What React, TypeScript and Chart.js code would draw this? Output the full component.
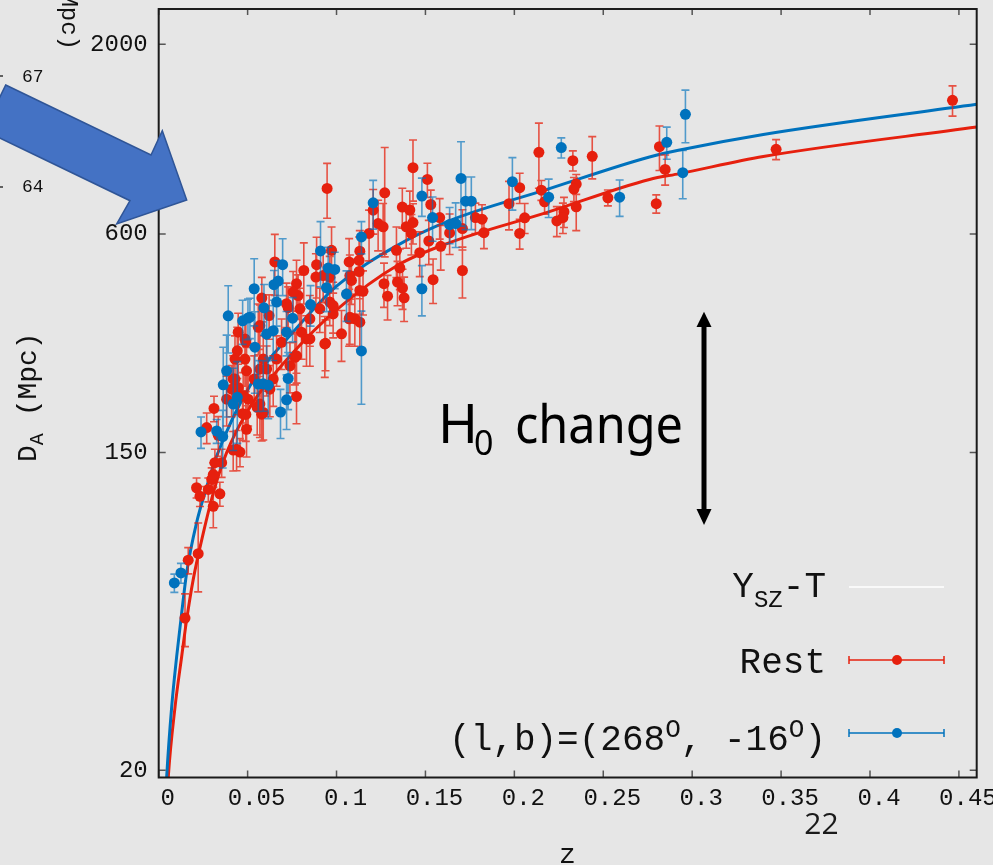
import { useEffect, useRef } from "react";
import { Chart, registerables } from "chart.js";

Chart.register(...registerables);

// Axis ticks
const xTicks = [0, 0.05, 0.1, 0.15, 0.2, 0.25, 0.3, 0.35, 0.4, 0.45];
const xTickLabels = ["0", "0.05", "0.1", "0.15", "0.2", "0.25", "0.3", "0.35", "0.4", "0.45"];
const yTicks = [20, 150, 600, 2000];
const yTickLabels = ["20", "150", "600", "2000"];

// "Rest" clusters: redshift, angular diameter distance (Mpc), 1-sigma error (Mpc)
const redZ = [
  0.0148, 0.0166, 0.0222, 0.0213, 0.0232, 0.0279, 0.0307, 0.0344, 0.0298, 0.0307,
  0.0316, 0.0354, 0.0419, 0.0457, 0.0311, 0.027, 0.0335, 0.0472, 0.049, 0.0429,
  0.0485, 0.0494, 0.0419, 0.0447, 0.0503, 0.0554, 0.0579, 0.0447, 0.0485, 0.056,
  0.0588, 0.0607, 0.0644, 0.0625, 0.0663, 0.0691, 0.0738, 0.0766, 0.0775, 0.0803,
  0.0831, 0.085, 0.0794, 0.0906, 0.0938, 0.1028, 0.1075, 0.0981, 0.0962, 0.0719,
  0.0569, 0.058, 0.0653, 0.0621, 0.0728, 0.0775, 0.0784, 0.0816, 0.0884, 0.0888,
  0.0925, 0.0972, 0.0981, 0.0934, 0.1071, 0.1127, 0.1131, 0.1084, 0.1071, 0.1103,
  0.1131, 0.1149, 0.1183, 0.1234, 0.1262, 0.1337, 0.1267, 0.1287, 0.1343, 0.085,
  0.0775, 0.0569, 0.0588, 0.0494, 0.0438, 0.0947, 0.1271, 0.143, 0.1511, 0.153,
  0.158, 0.137, 0.1412, 0.1206, 0.1392, 0.143, 0.1421, 0.1356, 0.1468, 0.1519,
  0.1586, 0.1371, 0.138, 0.1543, 0.1636, 0.1708, 0.1708, 0.1781, 0.1818, 0.1829,
  0.197, 0.203, 0.2058, 0.203, 0.2138, 0.2152, 0.217, 0.2239, 0.2279, 0.2273,
  0.2329, 0.2348, 0.2335, 0.2348, 0.2438, 0.2526, 0.2798, 0.2816, 0.2848, 0.3472,
  0.4464, 0.0962, 0.1075, 0.0756, 0.1127, 0.1131, 0.0382, 0.0429, 0.041, 0.0475,
  0.049, 0.0569, 0.0442, 0.0537,
];
const redD = [
  52.5, 75.8, 79, 120, 113.7, 118.7, 106.7, 115.5, 126.5, 130.5,
  140.7, 140.7, 152.4, 150.5, 198.4, 175.8, 167.4, 192, 191, 271.5,
  271.5, 252, 239.1, 226.7, 210.5, 199.7, 191.4, 322, 308.4, 332,
  271.5, 254.8, 239.1, 224.3, 271.5, 302, 260, 274.5, 214, 322,
  308.4, 350.3, 373.3, 373.3, 300, 318.5, 354, 361.5, 389.6, 385.5,
  335.6, 399.6, 502.5, 357.7, 376, 437.8, 406, 476, 456.6, 494,
  461, 541, 381, 298.7, 502.5, 507.5, 419.4, 447, 350.3, 350.3,
  343, 417, 602, 641, 628, 541, 437.8, 404.6, 442.5, 308.4,
  277, 204, 193.4, 173.9, 153.1, 801.2, 779, 914, 848, 723.5,
  666, 712, 698.7, 697.7, 628, 645, 602, 483.7, 533, 574,
  555, 426, 400.3, 449, 604, 621, 476, 666, 659, 605,
  727, 805, 665, 602, 1007, 792.5, 736, 652, 691, 666,
  955.5, 823.5, 797.6, 713, 982, 755, 727, 1044, 904, 1026.6,
  1401, 456.7, 461, 415, 473, 538, 210.5, 239.1, 224.3, 215,
  302, 254.8, 286, 239,
];
const redErr = [
  8.7, 6.3, 17, 7.6, 7.2, 9, 13.6, 8.8, 9.6, 10,
  12.5, 12.5, 19, 13.4, 16, 17, 21, 30, 30, 43,
  43, 40, 38, 36, 33, 32, 30, 41, 43, 53,
  43, 40, 38, 36, 43, 48, 41, 44, 34, 51,
  49, 56, 52, 52, 48, 51, 56, 51, 54, 54,
  47, 56, 96, 50, 53, 70, 57, 91, 73, 94,
  73, 86, 61, 57, 80, 81, 59, 63, 56, 56,
  55, 58, 96, 102, 100, 86, 61, 57, 62, 49,
  44, 39, 31, 28, 19.5, 138, 260, 175, 92, 69,
  85, 90, 89, 98, 80, 82, 77, 62, 75, 80,
  78, 54, 56, 63, 77, 79, 76, 64, 63, 58,
  111, 77, 63, 57, 205, 50, 56, 62, 66, 64,
  61, 52, 61, 100, 131, 38, 42, 146, 86, 65,
  134, 64, 64, 58, 66, 75, 33, 38, 36, 34,
  48, 40, 46, 38,
];

// Clusters in the (l,b) = (268°, -16°) direction
const blueZ = [
  0.0088, 0.0125, 0.0238, 0.0326, 0.036, 0.0363, 0.0382, 0.0391, 0.0419, 0.0442,
  0.0472, 0.0502, 0.0513, 0.0537, 0.0541, 0.056, 0.0588, 0.0616, 0.0592, 0.0607,
  0.0644, 0.0648, 0.0672, 0.0697, 0.0663, 0.0685, 0.0719, 0.0728, 0.0719, 0.0753,
  0.0854, 0.091, 0.0944, 0.0953, 0.099, 0.1056, 0.114, 0.114, 0.1206, 0.148,
  0.154, 0.148, 0.17, 0.1726, 0.1758, 0.1636, 0.167, 0.1989, 0.2193, 0.2264,
  0.2592, 0.2857, 0.2962, 0.2947,
];
const blueD = [
  65.6, 69.9, 171, 172, 166, 230.6, 252, 357, 204, 213,
  346, 352, 354, 424, 292.6, 231.7, 232, 230, 375.7, 318,
  325, 435, 445, 494, 389.6, 194, 209.6, 240, 322, 351.7,
  383.6, 539, 426.7, 483.4, 479.4, 409.8, 589, 285.8, 731, 763,
  666, 424, 853.8, 739, 739, 637, 641, 836, 758, 1038,
  758, 1073, 1282, 885,
];
const blueErr = [
  3.8, 4.4, 17, 13, 30, 62, 64, 75, 52, 54,
  48, 45, 45, 89, 74, 37, 37, 44, 60, 50,
  56, 41, 62, 88, 55, 30, 36, 43, 45, 49,
  49, 110, 60, 68, 55, 65, 60, 82, 112, 92,
  93, 67, 223, 122, 122, 73, 90, 138, 92, 66,
  87, 109, 212, 135,
];

// Model D_A(z) curves for the two H0 values
const blueFitZ = [0.0038, 0.0045, 0.0073, 0.0101, 0.0129, 0.0157, 0.0213, 0.026, 0.0326, 0.0513, 0.0756, 0.1, 0.1327, 0.1636, 0.218, 0.276, 0.293, 0.34, 0.46];
const blueFitD = [16.2, 19.2, 29.9, 41.1, 54.1, 69.9, 96.1, 116.2, 146.8, 229, 322, 431, 553, 653, 795, 978, 1022, 1128, 1366];
const redFitZ = [0.0046, 0.0054, 0.0092, 0.0129, 0.0157, 0.0194, 0.0251, 0.0307, 0.0382, 0.0513, 0.0756, 0.1, 0.1346, 0.1636, 0.218, 0.276, 0.293, 0.34, 0.46];
const redFitD = [16.2, 19.2, 29.9, 41.1, 51.9, 67.0, 90.1, 116.2, 149.9, 200, 283, 371, 493, 568, 687, 848, 880, 981, 1182];

const RED = "#e6200e";
const BLUE = "#0072bd";
const MONO = "'Liberation Mono', 'DejaVu Sans Mono', monospace";

const toPoints = (xs: number[], ys: number[]) => xs.map((x, i) => ({ x, y: ys[i] }));

// Vertical error bars with caps, drawn just before each point dataset
const errorBarPlugin = {
  id: "errorBars",
  beforeDatasetDraw(chart: any, args: any) {
    const ds: any = chart.data.datasets[args.index];
    if (!ds.errs) return;
    const { ctx, chartArea: a } = chart;
    const xs = chart.scales.x;
    const ys = chart.scales.y;
    ctx.save();
    ctx.beginPath();
    ctx.rect(a.left, a.top, a.right - a.left, a.bottom - a.top);
    ctx.clip();
    ctx.strokeStyle = ds.errColor;
    ctx.lineWidth = 1.6;
    ctx.beginPath();
    ds.data.forEach((p: any, i: number) => {
      const e = ds.errs[i];
      const x = xs.getPixelForValue(p.x);
      const yt = ys.getPixelForValue(p.y + e);
      const yb = ys.getPixelForValue(Math.max(p.y - e, 1));
      ctx.moveTo(x, yt);
      ctx.lineTo(x, yb);
      ctx.moveTo(x - 4, yt);
      ctx.lineTo(x + 4, yt);
      ctx.moveTo(x - 4, yb);
      ctx.lineTo(x + 4, yb);
    });
    ctx.stroke();
    ctx.restore();
  },
};

// Box frame with inward tick marks on all four sides
const framePlugin = {
  id: "frame",
  afterDraw(chart: any) {
    const { ctx, chartArea: a } = chart;
    const xs = chart.scales.x;
    const ys = chart.scales.y;
    ctx.save();
    ctx.strokeStyle = "#555";
    ctx.lineWidth = 1.5;
    ctx.beginPath();
    xTicks.forEach((v) => {
      const px = xs.getPixelForValue(v);
      ctx.moveTo(px, a.bottom);
      ctx.lineTo(px, a.bottom - 7);
      ctx.moveTo(px, a.top);
      ctx.lineTo(px, a.top + 6);
    });
    yTicks.forEach((v) => {
      const py = ys.getPixelForValue(v);
      ctx.moveTo(a.left, py);
      ctx.lineTo(a.left + 7, py);
      ctx.moveTo(a.right, py);
      ctx.lineTo(a.right - 7, py);
    });
    ctx.stroke();
    ctx.strokeStyle = "#1a1a1a";
    ctx.lineWidth = 2;
    ctx.strokeRect(a.left, a.top, a.right - a.left, a.bottom - a.top);
    ctx.restore();
  },
};

export default function App() {
  const ref = useRef<HTMLCanvasElement>(null);

  useEffect(() => {
    const chart = new Chart(ref.current!, {
      type: "scatter",
      data: {
        datasets: [
          {
            type: "line",
            label: "fit high H0",
            data: toPoints(blueFitZ, blueFitD),
            borderColor: BLUE,
            borderWidth: 3,
            pointRadius: 0,
            cubicInterpolationMode: "monotone",
            order: 3,
          } as any,
          {
            type: "line",
            label: "fit low H0",
            data: toPoints(redFitZ, redFitD),
            borderColor: RED,
            borderWidth: 3,
            pointRadius: 0,
            cubicInterpolationMode: "monotone",
            order: 3,
          } as any,
          {
            label: "Rest",
            data: toPoints(redZ, redD),
            backgroundColor: RED,
            borderWidth: 0,
            pointRadius: 5.5,
            errs: redErr,
            errColor: "rgba(230, 32, 14, 0.75)",
            order: 2,
          } as any,
          {
            label: "(l,b)=(268°, -16°)",
            data: toPoints(blueZ, blueD),
            backgroundColor: BLUE,
            borderWidth: 0,
            pointRadius: 5.5,
            errs: blueErr,
            errColor: "rgba(0, 114, 189, 0.65)",
            order: 1,
          } as any,
        ],
      },
      options: {
        animation: false,
        responsive: false,
        devicePixelRatio: 1,
        layout: { padding: { top: 9, right: 16.3, left: 0, bottom: 0 } },
        plugins: { legend: { display: false }, tooltip: { enabled: false } },
        scales: {
          x: {
            type: "linear",
            min: 0,
            max: 0.46,
            afterBuildTicks: (s: any) => {
              s.ticks = xTicks.map((v) => ({ value: v }));
            },
            afterFit: (s: any) => {
              s.height = 87.5;
              s.paddingLeft = 0;
              s.paddingRight = 0;
            },
            grid: { display: false, drawTicks: false },
            border: { display: false },
            ticks: {
              autoSkip: false,
              maxRotation: 0,
              padding: 7,
              labelOffset: 9,
              color: "#111",
              font: { family: MONO, size: 24 },
              callback: (_v: any, i: number) => xTickLabels[i],
            },
          },
          y: {
            type: "logarithmic",
            min: 19.1,
            max: 2500,
            afterBuildTicks: (s: any) => {
              s.ticks = yTicks.map((v) => ({ value: v }));
            },
            afterFit: (s: any) => {
              s.width = 158.7;
              s.paddingTop = 0;
              s.paddingBottom = 0;
            },
            grid: { display: false, drawTicks: false },
            border: { display: false },
            ticks: {
              autoSkip: false,
              padding: 11,
              color: "#111",
              font: { family: MONO, size: 24 },
              callback: (_v: any, i: number) => yTickLabels[i],
            },
          },
        },
      },
      plugins: [errorBarPlugin, framePlugin],
    });
    return () => chart.destroy();
  }, []);

  return (
    <div
      style={{
        position: "fixed",
        left: 0,
        top: 0,
        width: 993,
        height: 865,
        background: "#e6e6e6",
        overflow: "hidden",
      }}
    >
      <canvas ref={ref} width={993} height={865} style={{ display: "block", width: 993, height: 865 }} />
      <svg
        width={993}
        height={865}
        style={{ position: "absolute", left: 0, top: 0, pointerEvents: "none" }}
      >
        {/* neighbouring panel remnants */}
        <text transform="translate(62,50) rotate(90)" textAnchor="end" fontFamily={MONO} fontSize={24} fill="#111">
          (Mpc)
        </text>
        <text x={22} y={82} fontFamily={MONO} fontSize={18} fill="#111">67</text>
        <text x={22} y={192} fontFamily={MONO} fontSize={18} fill="#111">64</text>
        <line x1={0} y1={76} x2={3} y2={76} stroke="#333" strokeWidth={1.5} />
        <line x1={0} y1={187} x2={3} y2={187} stroke="#333" strokeWidth={1.5} />

        {/* pointer arrow */}
        <polygon
          points="5.7,85 151,155 162.3,130.7 186.7,200 116.7,224 130,200.7 -16.1,130.3"
          fill="#4472c4"
          stroke="#2f5597"
          strokeWidth={1.5}
        />

        {/* axis titles */}
        <text
          transform="translate(36,462) rotate(-90)"
          fontFamily={MONO}
          fontSize={28}
          fill="#111"
          style={{ whiteSpace: "pre" }}
        >
          D<tspan fontSize={20} dy={7}>A</tspan>
          <tspan dy={-7}>{" (Mpc)"}</tspan>
        </text>
        <text x={567.5} y={863} textAnchor="middle" fontFamily={MONO} fontSize={28} fill="#111">z</text>

        {/* slide number */}
        <text x={821.5} y={834} textAnchor="middle" fontFamily="'Open Sans', sans-serif" fontSize={30} fill="#1a1a1a">22</text>

        {/* H0 annotation */}
        <text fontFamily="'Noto Sans', sans-serif" fill="#000">
          <tspan x={438} y={443} fontSize={54}>H</tspan>
          <tspan x={474} y={455} fontSize={34}>0</tspan>
          <tspan x={515} y={443} fontSize={52} textLength={168} lengthAdjust="spacingAndGlyphs">change</tspan>
        </text>
        <line x1={704} y1={324} x2={704} y2={512} stroke="#000" strokeWidth={5} />
        <polygon points="704,311.7 696.5,327 711.5,327" fill="#000" />
        <polygon points="704,525 696.5,509 711.5,509" fill="#000" />

        {/* legend */}
        <g fontFamily={MONO} fill="#111" style={{ whiteSpace: "pre" }}>
          <text x={826} y={597} textAnchor="end" fontSize={36}>
            Y<tspan fontSize={24} dy={10}>SZ</tspan>
            <tspan dy={-10}>-T</tspan>
          </text>
          <text x={826} y={672.7} textAnchor="end" fontSize={36}>Rest</text>
          <text x={826} y={750} textAnchor="end" fontSize={36}>
            (l,b)=(268<tspan fontSize={26} dy={-13}>O</tspan>
            <tspan dy={13}>, -16</tspan>
            <tspan fontSize={26} dy={-13}>O</tspan>
            <tspan dy={13}>)</tspan>
          </text>
        </g>
        <line x1={849} y1={587} x2={944} y2={587} stroke="#ffffff" strokeWidth={1.5} />
        <g stroke={RED} strokeWidth={1.5}>
          <line x1={849} y1={660} x2={944} y2={660} />
          <line x1={849} y1={656} x2={849} y2={664} />
          <line x1={944} y1={656} x2={944} y2={664} />
        </g>
        <circle cx={897} cy={660} r={5} fill={RED} />
        <g stroke={BLUE} strokeWidth={1.5}>
          <line x1={849} y1={733} x2={944} y2={733} />
          <line x1={849} y1={729} x2={849} y2={737} />
          <line x1={944} y1={729} x2={944} y2={737} />
        </g>
        <circle cx={897} cy={733} r={5} fill={BLUE} />
      </svg>
    </div>
  );
}
